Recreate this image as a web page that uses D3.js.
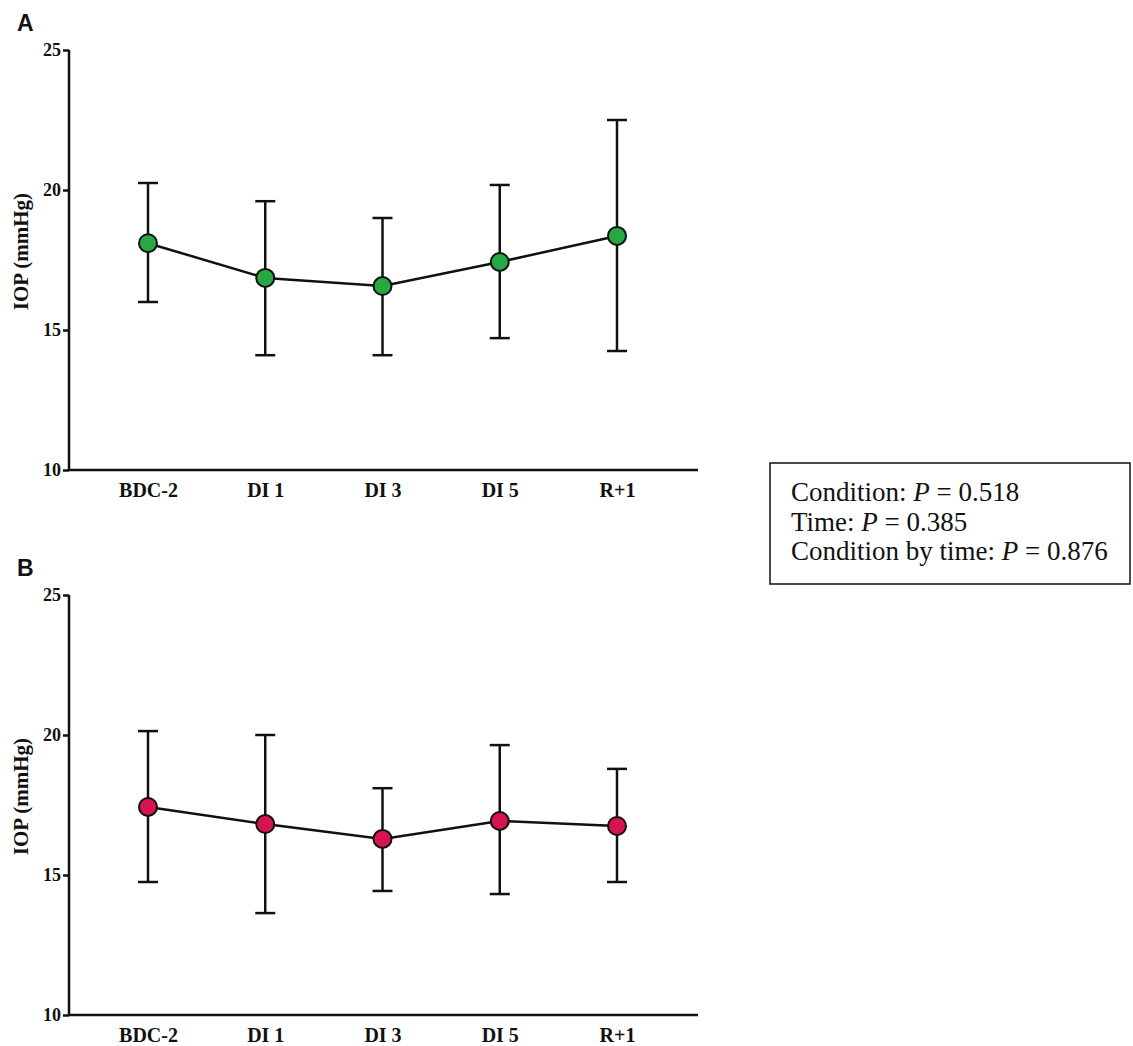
<!DOCTYPE html>
<html>
<head>
<meta charset="utf-8">
<script src="https://cdn.jsdelivr.net/npm/d3@7"></script>
<style>
  body { margin: 0; background: #fff; }
  svg text { fill: #111; }
</style>
</head>
<body>
<svg id="chart" width="1133" height="1046"></svg>
<script>
// timepoints on the x axis
var categories = ["BDC-2", "DI 1", "DI 3", "DI 5", "R+1"];
var yTicks = [10, 15, 20, 25];

// panel A (green)
var meanA  = [18.1, 16.86, 16.57, 17.43, 18.36];
var upperA = [20.25, 19.6, 19.0, 20.18, 22.5];
var lowerA = [16.0, 14.1, 14.1, 14.71, 14.25];

// panel B (red)
var meanB  = [17.43, 16.82, 16.29, 16.93, 16.75];
var upperB = [20.14, 20.0, 18.1, 19.64, 18.79];
var lowerB = [14.75, 13.64, 14.43, 14.32, 14.75];

var statLines = [
  ["Condition: ", "0.518"],
  ["Time: ", "0.385"],
  ["Condition by time: ", "0.876"]
];

var serif = "Liberation Serif, Times New Roman, serif";
var svg = d3.select("#chart");

function drawPanel(letter, top, mean, upper, lower, fill){
  var x0 = 69, x1 = 698;
  var y = d3.scaleLinear().domain([10, 25]).range([top + 420, top]);
  var x = d3.scalePoint().domain(categories).range([148, 617]);

  var g = svg.append("g");

  g.append("text")
    .attr("x", 17).attr("y", top - 19)
    .style("font-family", "Liberation Sans, Arial, sans-serif")
    .style("font-weight", "bold").style("font-size", "23px")
    .text(letter);

  // y axis
  var yAxis = g.append("g")
    .attr("transform", "translate(" + x0 + ",0)")
    .call(d3.axisLeft(y).tickValues(yTicks).tickSize(6).tickPadding(2));
  yAxis.select(".domain").attr("stroke", "#111").attr("stroke-width", 2.5)
    .attr("d", "M0," + y(25) + "V" + y(10));
  yAxis.selectAll(".tick line").attr("stroke", "#111").attr("stroke-width", 2.5);
  yAxis.selectAll(".tick text")
    .style("font-family", serif)
    .style("font-weight", "bold").style("font-size", "18px");

  // x axis
  var xAxis = g.append("g")
    .attr("transform", "translate(0," + y(10) + ")")
    .call(d3.axisBottom(x).tickSize(0).tickPadding(13));
  xAxis.select(".domain").attr("stroke", "#111").attr("stroke-width", 2.5)
    .attr("d", "M" + x0 + ",0H" + x1);
  xAxis.selectAll(".tick text")
    .style("font-family", serif)
    .style("font-weight", "bold").style("font-size", "20px");

  g.append("text")
    .attr("transform", "translate(28," + y(17.8) + ") rotate(-90)")
    .attr("text-anchor", "middle")
    .style("font-family", serif)
    .style("font-weight", "bold").style("font-size", "21px")
    .text("IOP (mmHg)");

  var pts = categories.map(function(c, i){
    return {c: c, m: mean[i], hi: upper[i], lo: lower[i]};
  });

  // error bars
  var eb = g.selectAll(".eb").data(pts).enter().append("g")
    .attr("stroke", "#111").attr("stroke-width", 2.5);
  eb.append("line")
    .attr("x1", function(d){ return x(d.c); }).attr("x2", function(d){ return x(d.c); })
    .attr("y1", function(d){ return y(d.hi); }).attr("y2", function(d){ return y(d.lo); });
  eb.append("line")
    .attr("x1", function(d){ return x(d.c) - 10; }).attr("x2", function(d){ return x(d.c) + 10; })
    .attr("y1", function(d){ return y(d.hi); }).attr("y2", function(d){ return y(d.hi); });
  eb.append("line")
    .attr("x1", function(d){ return x(d.c) - 10; }).attr("x2", function(d){ return x(d.c) + 10; })
    .attr("y1", function(d){ return y(d.lo); }).attr("y2", function(d){ return y(d.lo); });

  g.append("path").datum(pts)
    .attr("fill", "none").attr("stroke", "#111").attr("stroke-width", 2.5)
    .attr("d", d3.line().x(function(d){ return x(d.c); }).y(function(d){ return y(d.m); }));

  g.selectAll(".dot").data(pts).enter().append("circle")
    .attr("cx", function(d){ return x(d.c); })
    .attr("cy", function(d){ return y(d.m); })
    .attr("r", 9)
    .attr("fill", fill).attr("stroke", "#111").attr("stroke-width", 2);
}

drawPanel("A", 50, meanA, upperA, lowerA, "#26a843");
drawPanel("B", 595, meanB, upperB, lowerB, "#d6144f");

// stats box
var box = svg.append("g");
box.append("rect")
  .attr("x", 770).attr("y", 463).attr("width", 360).attr("height", 121)
  .attr("fill", "#fff").attr("stroke", "#111").attr("stroke-width", 1.5);
statLines.forEach(function(s, i){
  var t = box.append("text")
    .attr("x", 791).attr("y", 501 + i * 29.5)
    .style("font-family", serif)
    .style("font-size", "27px");
  t.append("tspan").text(s[0]);
  t.append("tspan").style("font-style", "italic").text("P");
  t.append("tspan").text(" = " + s[1]);
});
</script>
</body>
</html>
